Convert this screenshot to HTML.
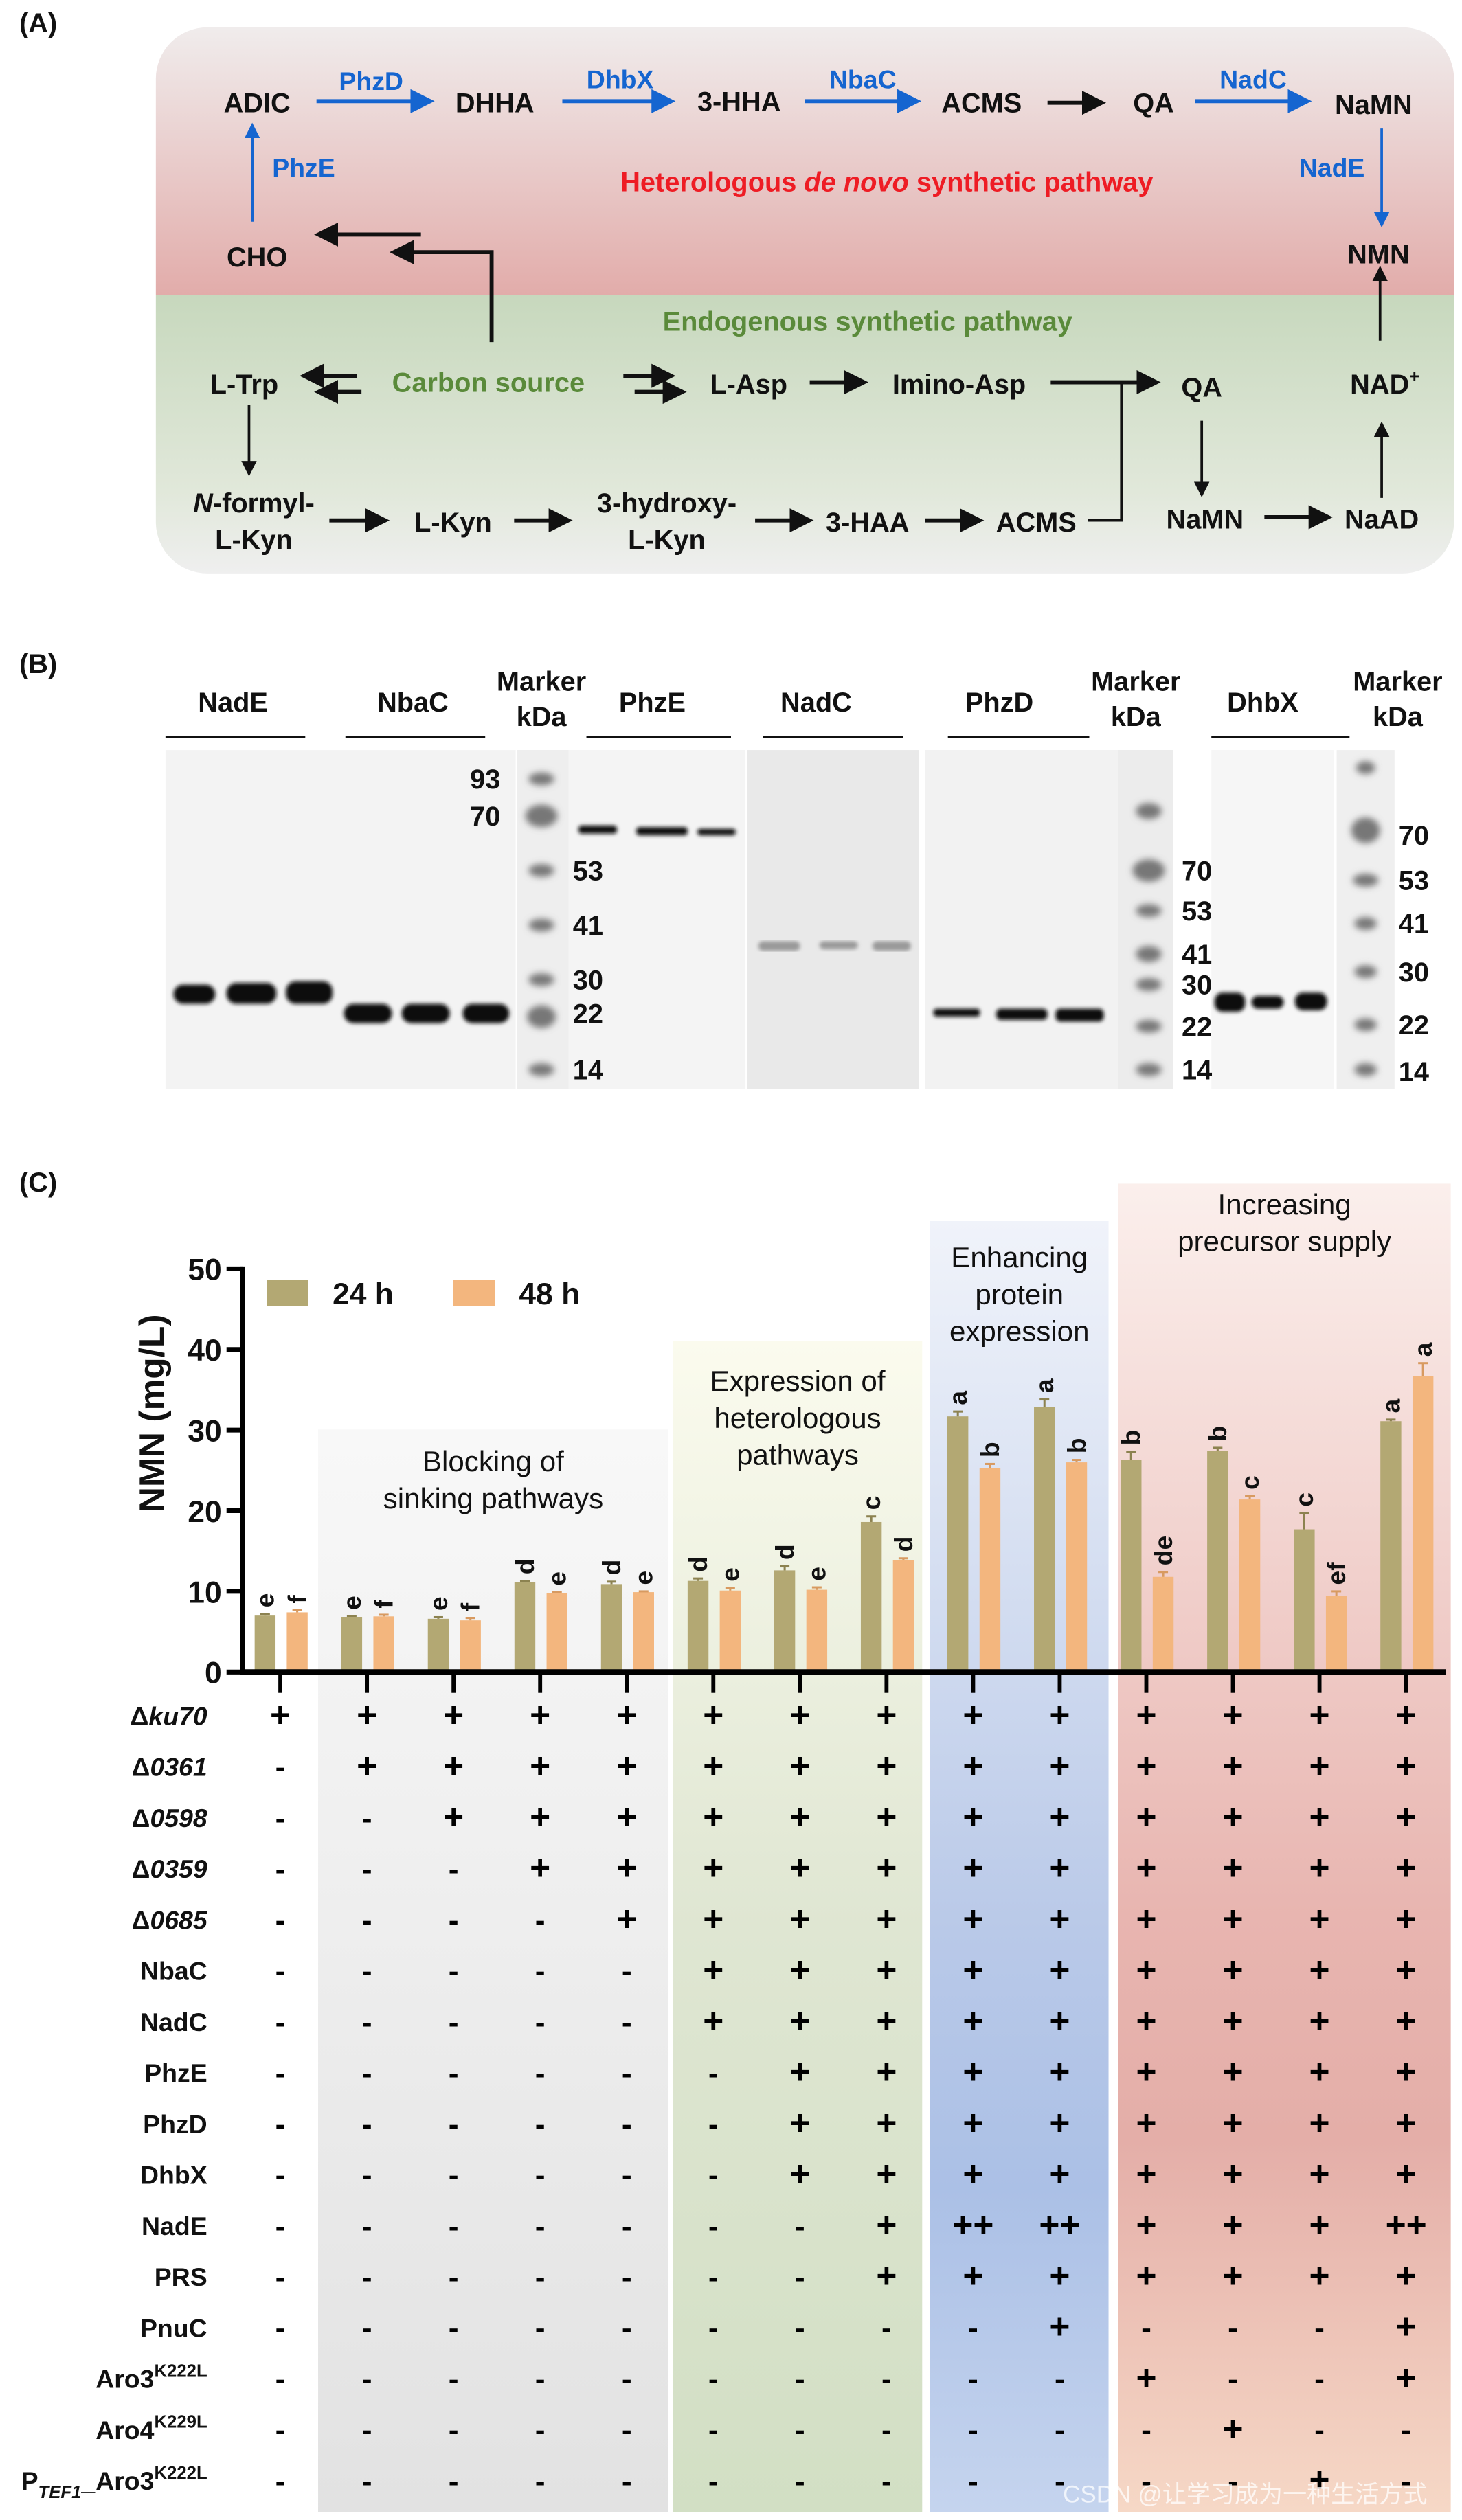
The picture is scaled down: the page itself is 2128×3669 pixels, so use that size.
<!DOCTYPE html>
<html><head><meta charset="utf-8">
<style>
html,body{margin:0;padding:0;background:#fff}
svg{display:block}
text{font-family:"Liberation Sans","Noto Sans CJK SC",sans-serif}
.b{font-weight:bold;fill:#111}
</style></head>
<body>
<svg id="fig" width="2128" height="3669" viewBox="0 0 910 1569" preserveAspectRatio="none" xmlns="http://www.w3.org/2000/svg">
<defs>
<marker id="ak" markerWidth="6" markerHeight="6" refX="5" refY="3" orient="auto" markerUnits="strokeWidth"><path d="M0,0 L6,3 L0,6 z" fill="#111"/></marker>
<marker id="ab" markerWidth="6" markerHeight="6" refX="5" refY="3" orient="auto" markerUnits="strokeWidth"><path d="M0,0 L6,3 L0,6 z" fill="#1565d0"/></marker>
<linearGradient id="gA" x1="0" y1="0" x2="0" y2="1">
<stop offset="0" stop-color="#f0ecec"/><stop offset="0.49" stop-color="#e2acaa"/><stop offset="0.49" stop-color="#c7d8bd"/><stop offset="0.85" stop-color="#e1e8da"/><stop offset="1" stop-color="#efefef"/></linearGradient>
<linearGradient id="gBlk" x1="0" y1="0" x2="0" y2="1"><stop offset="0" stop-color="#f8f8f8"/><stop offset="1" stop-color="#e2e2e2"/></linearGradient>
<linearGradient id="gExp" x1="0" y1="0" x2="0" y2="1"><stop offset="0" stop-color="#fbfbee"/><stop offset="0.5" stop-color="#dfe6d2"/><stop offset="1" stop-color="#d2dfc4"/></linearGradient>
<linearGradient id="gEnh" x1="0" y1="0" x2="0" y2="1"><stop offset="0" stop-color="#f0f3fa"/><stop offset="0.55" stop-color="#b9c9e8"/><stop offset="0.75" stop-color="#abc0e6"/><stop offset="1" stop-color="#c5d4ee"/></linearGradient>
<linearGradient id="gInc" x1="0" y1="0" x2="0" y2="1"><stop offset="0" stop-color="#fbefec"/><stop offset="0.55" stop-color="#e8b5b0"/><stop offset="0.72" stop-color="#e4aea8"/><stop offset="1" stop-color="#f6d8c6"/></linearGradient>
<filter id="bl"><feGaussianBlur stdDeviation="1.2"/></filter>
<filter id="bl2"><feGaussianBlur stdDeviation="2"/></filter>
</defs>

<!-- PANEL A -->
<g>
<text x="12" y="20" class="b" font-size="17">(A)</text>
<rect x="97" y="17" width="808" height="340" rx="32" fill="url(#gA)"/>
<g font-size="17" class="b" text-anchor="middle">
<text x="160" y="70" class="b">ADIC</text>
<text x="308" y="70" class="b">DHHA</text>
<text x="460" y="69" class="b">3-HHA</text>
<text x="611" y="70" class="b">ACMS</text>
<text x="718" y="70" class="b">QA</text>
<text x="855" y="71" class="b">NaMN</text>
<text x="858" y="164" class="b">NMN</text>
<text x="160" y="166" class="b">CHO</text>
<text x="152" y="245" class="b">L-Trp</text>
<text x="466" y="245" class="b">L-Asp</text>
<text x="597" y="245" class="b">Imino-Asp</text>
<text x="748" y="247" class="b">QA</text>
<text x="862" y="245" class="b">NAD<tspan font-size="11" dy="-7">+</tspan></text>
<text x="158" y="319" class="b"><tspan font-style="italic">N</tspan>-formyl-</text>
<text x="158" y="342" class="b">L-Kyn</text>
<text x="282" y="331" class="b">L-Kyn</text>
<text x="415" y="319" class="b">3-hydroxy-</text>
<text x="415" y="342" class="b">L-Kyn</text>
<text x="540" y="331" class="b">3-HAA</text>
<text x="645" y="331" class="b">ACMS</text>
<text x="750" y="329" class="b">NaMN</text>
<text x="860" y="329" class="b">NaAD</text>
</g>
<g font-size="16" font-weight="bold" fill="#1565d0" text-anchor="middle">
<text x="231" y="56">PhzD</text><text x="386" y="55">DhbX</text><text x="537" y="55">NbaC</text><text x="780" y="55">NadC</text>
<text x="829" y="110">NadE</text><text x="189" y="110">PhzE</text>
</g>
<text x="552" y="119" font-size="17" font-weight="bold" fill="#ee1c24" text-anchor="middle">Heterologous <tspan font-style="italic">de novo</tspan> synthetic pathway</text>
<text x="540" y="206" font-size="17" font-weight="bold" fill="#5a8a3a" text-anchor="middle">Endogenous synthetic pathway</text>
<text x="304" y="244" font-size="17" font-weight="bold" fill="#5a8a3a" text-anchor="middle">Carbon source</text>
<g stroke="#1565d0" stroke-width="2.5" fill="none" marker-end="url(#ab)">
<line x1="197" y1="63" x2="268" y2="63"/><line x1="350" y1="63" x2="418" y2="63"/><line x1="501" y1="63" x2="571" y2="63"/><line x1="744" y1="63" x2="814" y2="63"/>
</g>
<g stroke="#1565d0" stroke-width="1.6" fill="none" marker-end="url(#ab)">
<line x1="860" y1="80" x2="860" y2="140"/><line x1="157" y1="138" x2="157" y2="78"/>
</g>
<g stroke="#111" stroke-width="2.5" fill="none" marker-end="url(#ak)">
<line x1="652" y1="64" x2="686" y2="64"/><line x1="262" y1="146" x2="198" y2="146"/>
<polyline points="306,213 306,157 245,157"/>
<line x1="222" y1="234" x2="189" y2="234"/><line x1="225" y1="244" x2="198" y2="244"/>
<line x1="388" y1="234" x2="418" y2="234"/><line x1="395" y1="244" x2="425" y2="244"/>
<line x1="504" y1="238" x2="538" y2="238"/>
<line x1="654" y1="238" x2="720" y2="238"/>
<line x1="205" y1="324" x2="240" y2="324"/><line x1="320" y1="324" x2="354" y2="324"/><line x1="470" y1="324" x2="504" y2="324"/><line x1="576" y1="324" x2="610" y2="324"/>
<line x1="787" y1="322" x2="827" y2="322"/>
</g>
<g stroke="#111" stroke-width="1.6" fill="none" marker-end="url(#ak)">
<line x1="859" y1="212" x2="859" y2="167"/><line x1="155" y1="252" x2="155" y2="295"/>
<line x1="748" y1="262" x2="748" y2="308"/><line x1="860" y1="310" x2="860" y2="264"/>
</g>
<polyline points="677,324 698,324 698,238" stroke="#111" stroke-width="1.6" fill="none"/>
</g>

<!-- PANEL B -->
<g>
<text x="12" y="419" class="b" font-size="17">(B)</text>
<g font-size="17" class="b" text-anchor="middle">
<text x="145" y="443">NadE</text><text x="257" y="443">NbaC</text><text x="406" y="443">PhzE</text><text x="508" y="443">NadC</text><text x="622" y="443">PhzD</text><text x="786" y="443">DhbX</text>
<text x="337" y="430">Marker</text><text x="337" y="452">kDa</text>
<text x="707" y="430">Marker</text><text x="707" y="452">kDa</text>
<text x="870" y="430">Marker</text><text x="870" y="452">kDa</text>
</g>
<g stroke="#111" stroke-width="1.3">
<line x1="103" y1="459" x2="190" y2="459"/><line x1="215" y1="459" x2="302" y2="459"/><line x1="365" y1="459" x2="455" y2="459"/><line x1="475" y1="459" x2="562" y2="459"/><line x1="590" y1="459" x2="678" y2="459"/><line x1="754" y1="459" x2="840" y2="459"/>
</g>
<rect x="103" y="467" width="218" height="211" fill="#f3f3f3"/>
<rect x="322" y="467" width="32" height="211" fill="#eeeeee"/>
<rect x="354" y="467" width="110" height="211" fill="#f4f4f4"/>
<rect x="465" y="467" width="107" height="211" fill="#e9e9e9"/>
<rect x="576" y="467" width="120" height="211" fill="#f2f2f2"/>
<rect x="696" y="467" width="34" height="211" fill="#ececec"/>
<rect x="754" y="467" width="76" height="211" fill="#f6f6f6"/>
<rect x="832" y="467" width="36" height="211" fill="#efefef"/>
<g fill="#0a0a0a" filter="url(#bl)">
<rect x="108" y="613" width="26" height="12" rx="6"/><rect x="141" y="612" width="31" height="13" rx="6"/><rect x="178" y="611" width="29" height="14" rx="6"/>
<rect x="214" y="625" width="30" height="12" rx="6"/><rect x="250" y="625" width="30" height="12" rx="6"/><rect x="288" y="625" width="29" height="12" rx="6"/>
<rect x="360" y="514" width="24" height="5" rx="2"/><rect x="396" y="515" width="32" height="5" rx="2"/><rect x="434" y="516" width="24" height="4" rx="2"/>
<rect x="581" y="628" width="29" height="5" rx="2"/><rect x="620" y="628" width="32" height="7" rx="3"/><rect x="657" y="628" width="30" height="8" rx="3"/>
<rect x="756" y="618" width="19" height="12" rx="5"/><rect x="779" y="620" width="20" height="8" rx="4"/><rect x="806" y="618" width="20" height="11" rx="5"/>
</g>
<g fill="#999" filter="url(#bl)">
<rect x="472" y="586" width="26" height="6" rx="3"/><rect x="510" y="586" width="24" height="5" rx="3"/><rect x="543" y="586" width="24" height="6" rx="3"/>
</g>
<g fill="#777" filter="url(#bl2)">
<ellipse cx="337" cy="485" rx="8" ry="4"/><ellipse cx="337" cy="508" rx="10" ry="7"/><ellipse cx="337" cy="542" rx="8" ry="4"/><ellipse cx="337" cy="576" rx="8" ry="4"/><ellipse cx="337" cy="610" rx="8" ry="4"/><ellipse cx="337" cy="633" rx="9" ry="7"/><ellipse cx="337" cy="666" rx="8" ry="4"/>
<ellipse cx="715" cy="505" rx="8" ry="5"/><ellipse cx="715" cy="542" rx="10" ry="7"/><ellipse cx="715" cy="567" rx="8" ry="4"/><ellipse cx="715" cy="594" rx="8" ry="5"/><ellipse cx="715" cy="613" rx="8" ry="4"/><ellipse cx="715" cy="639" rx="8" ry="4"/><ellipse cx="715" cy="666" rx="8" ry="4"/>
<ellipse cx="850" cy="478" rx="6" ry="4"/><ellipse cx="850" cy="517" rx="9" ry="8"/><ellipse cx="850" cy="548" rx="8" ry="4"/><ellipse cx="850" cy="575" rx="7" ry="4"/><ellipse cx="850" cy="605" rx="7" ry="4"/><ellipse cx="850" cy="638" rx="7" ry="4"/><ellipse cx="850" cy="666" rx="7" ry="4"/>
</g>
<g font-size="17" class="b" text-anchor="middle">
<text x="302" y="491">93</text><text x="302" y="514">70</text><text x="366" y="548">53</text><text x="366" y="582">41</text><text x="366" y="616">30</text><text x="366" y="637">22</text><text x="366" y="672">14</text>
<text x="745" y="548">70</text><text x="745" y="573">53</text><text x="745" y="600">41</text><text x="745" y="619">30</text><text x="745" y="645">22</text><text x="745" y="672">14</text>
<text x="880" y="526">70</text><text x="880" y="554">53</text><text x="880" y="581">41</text><text x="880" y="611">30</text><text x="880" y="644">22</text><text x="880" y="673">14</text>
</g>
</g>

<!-- PANEL C -->
<text x="12" y="742" class="b" font-size="17">(C)</text>
<g id="chart"></g>
<text x="775" y="1558" font-size="15" fill="#ffffff" fill-opacity="0.75" text-anchor="middle">CSDN @让学习成为一种生活方式</text>
</svg>

<script>
const categories = ["S1","S2","S3","S4","S5","S6","S7","S8","S9","S10","S11","S12","S13","S14"];
const values24 = [7.0,6.8,6.6,11.1,10.9,11.3,12.6,18.6,31.7,32.9,26.3,27.4,17.7,31.1];
const err24 = [0.2,0.1,0.2,0.2,0.3,0.3,0.5,0.7,0.6,0.9,1.0,0.4,2.0,0.2];
const values48 = [7.4,6.9,6.4,9.8,9.9,10.1,10.2,13.9,25.3,26.0,11.8,21.4,9.4,36.7];
const err48 = [0.3,0.2,0.3,0.1,0.1,0.3,0.3,0.2,0.5,0.3,0.6,0.4,0.6,1.6];
const letters24 = ["e","e","e","d","d","d","d","c","a","a","b","b","c","a"];
const letters48 = ["f","f","f","e","e","e","e","d","b","b","de","c","ef","a"];
const yTicks = [0,10,20,30,40,50];
const rowLabels = ["Δ<i>ku70</i>","Δ<i>0361</i>","Δ<i>0598</i>","Δ<i>0359</i>","Δ<i>0685</i>","NbaC","NadC","PhzE","PhzD","DhbX","NadE","PRS","PnuC","Aro3|K222L","Aro4|K229L","PTEF1|K222L"];
const rowMarks = [
"++++++++++++++","-+++++++++++++","--++++++++++++","---+++++++++++","----++++++++++",
"-----+++++++++","-----+++++++++","------++++++++","------++++++++","------++++++++",
"-------+DD+++D","-------+++++++","---------+---+","----------+--+","-----------+--","------------+-"];
const groups = [
 {name:"blocking", lines:["Blocking of","sinking pathways"]},
 {name:"expression", lines:["Expression of","heterologous","pathways"]},
 {name:"enhancing", lines:["Enhancing","protein","expression"]},
 {name:"increasing", lines:["Increasing","precursor supply"]}
];
// layout for group panels (pixel geometry, not data)
const groupLayout = [
 {x1:198,x2:416,top:890,fill:"url(#gBlk)",ty:916},
 {x1:419,x2:574,top:835,fill:"url(#gExp)",ty:866},
 {x1:579,x2:690,top:760,fill:"url(#gEnh)",ty:789},
 {x1:696,x2:903,top:737,fill:"url(#gInc)",ty:756}
];

const NS="http://www.w3.org/2000/svg";
const chart=document.getElementById('chart');
const X0=174.5, DX=53.9, Y0=1041, YTOP=790, YMAX=50, AXX=151;
const xs=i=>X0+i*DX;
const ys=v=>Y0-(v/YMAX)*(Y0-YTOP);
function mk(tag,attrs,parent){const e=document.createElementNS(NS,tag);for(const k in attrs)e.setAttribute(k,attrs[k]);(parent||chart).appendChild(e);return e;}

// group backgrounds
groups.forEach((g,gi)=>{
  const L=groupLayout[gi];
  const r=mk('rect',{x:L.x1,y:L.top,width:L.x2-L.x1,height:1564-L.top,fill:L.fill});
  
  
  g.lines.forEach((l,k)=>{
    const t=mk('text',{x:(L.x1+L.x2)/2,y:L.ty+k*23,'font-size':18,'text-anchor':'middle',fill:'#111'});
    t.textContent=l;
    
    
  });
});

// y axis
const ya=mk('line',{x1:AXX,y1:YTOP-1.5,x2:AXX,y2:Y0+1.5,stroke:'#000','stroke-width':3});


yTicks.forEach(v=>{
  mk('line',{x1:AXX-10,y1:ys(v),x2:AXX,y2:ys(v),stroke:'#000','stroke-width':3});
  const t=mk('text',{x:AXX-13,y:ys(v)+7,'font-size':19,'font-weight':'bold','text-anchor':'end',fill:'#111'});
  t.textContent=v;
  
  
});
const yt=mk('text',{x:0,y:0,'font-size':22,'font-weight':'bold','text-anchor':'middle',fill:'#111',transform:'translate(102,880) rotate(-90)'});
yt.textContent='NMN (mg/L)';



// legend
[["#b3a873","24 h",166],["#f3b67e","48 h",282]].forEach(([c,l,x])=>{
  const r=mk('rect',{x:x,y:797,width:26,height:16,fill:c});
  
  
  const t=mk('text',{x:x+41,y:812,'font-size':19,'font-weight':'bold',fill:'#111'});
  t.textContent=l;
  
  
});

// bars
function bar(i,v,e,letter,off,color,ec,name){
  const cx=xs(i)+off, w=13;
  const r=mk('rect',{x:cx-w/2,y:ys(v),width:w,height:Y0-ys(v),fill:color});
  
  
  mk('line',{x1:cx,y1:ys(v),x2:cx,y2:ys(v+e),stroke:ec,'stroke-width':1.3});
  mk('line',{x1:cx-3,y1:ys(v+e),x2:cx+3,y2:ys(v+e),stroke:ec,'stroke-width':1.3});
  const ly=ys(v+e)-4;
  const t=mk('text',{x:0,y:0,'font-size':16,'font-weight':'bold',fill:'#111',transform:`translate(${cx+5.5},${ly}) rotate(-90)`});
  t.textContent=letter;
  
  
}
categories.forEach((c,i)=>{
  bar(i,values24[i],err24[i],letters24[i],-9.5,'#b3a873','#8c8250','bar-24h-'+c);
  bar(i,values48[i],err48[i],letters48[i],10.5,'#f3b67e','#d89a60','bar-48h-'+c);
  mk('line',{x1:xs(i),y1:Y0,x2:xs(i),y2:Y0+13,stroke:'#000','stroke-width':2.5});
});
const xa=mk('line',{x1:AXX-1.5,y1:Y0,x2:900,y2:Y0,stroke:'#000','stroke-width':3.5});



// genotype table
const R0=1068, DR=31.75;
rowLabels.forEach((lab,r)=>{
  const y=R0+r*DR;
  const t=mk('text',{x:129,y:y+6,'font-size':16,'font-weight':'bold','text-anchor':'end',fill:'#111'});
  if(lab.indexOf('|')>=0){
    const [a,sup]=lab.split('|');
    if(a==='PTEF1'){
      t.innerHTML='P<tspan font-size="11" font-style="italic" dy="5">TEF1</tspan><tspan dy="-5">_Aro3</tspan><tspan font-size="11" dy="-7">'+sup+'</tspan>';
    } else {
      t.innerHTML=a+'<tspan font-size="11" dy="-7">'+sup+'</tspan>';
    }
  } else {
    t.innerHTML=lab.replace(/<i>(.*?)<\/i>/,'<tspan font-style="italic">$1</tspan>');
  }
  
  
  rowMarks[r].split('').forEach((m,i)=>{
    const cx=xs(i);
    const s=mk('text',{x:cx,y:y+7,'font-size':m==='-'?19:22,'font-weight':'bold','text-anchor':'middle',fill:'#000'});
    s.textContent= m==='+'?'+':(m==='D'?'++':'-');
    
    
  });
});
</script>
</body></html>
